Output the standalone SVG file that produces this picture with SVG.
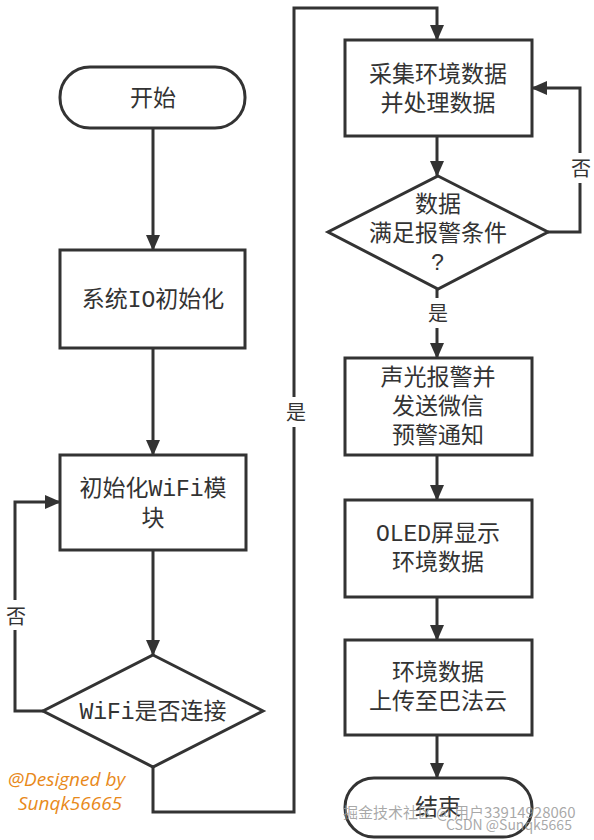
<svg xmlns="http://www.w3.org/2000/svg" width="594" height="840" viewBox="0 0 594 840">
<style>
.box{fill:#fff;stroke:#333;stroke-width:3}
.ln{fill:none;stroke:#333;stroke-width:3;stroke-linejoin:miter}
.t{font-family:"Liberation Mono","Noto Sans CJK SC",monospace;font-size:23px;fill:#333;text-anchor:middle}
.lbl{font-family:"Noto Sans CJK SC",sans-serif;font-size:20px;fill:#333;text-anchor:middle}
.wm{font-family:"Open Sans","Noto Sans",sans-serif;font-style:italic;font-size:19px;fill:#E8891A}
.wm2{font-family:"Noto Sans CJK SC",sans-serif;fill:#999;fill-opacity:0.85}
</style>
<defs>
<marker id="ah" markerUnits="userSpaceOnUse" markerWidth="16" markerHeight="14" refX="15" refY="7" orient="auto">
<path d="M0,0 L16,7 L0,14 Z" fill="#333"/>
</marker>
</defs>
<g id="connectors">
<path class="ln" d="M153,128 V250" marker-end="url(#ah)"/>
<path class="ln" d="M153,348 V455" marker-end="url(#ah)"/>
<path class="ln" d="M153,550 V655" marker-end="url(#ah)"/>
<path class="ln" d="M43,711 H15 V502 H60" marker-end="url(#ah)"/>
<path class="ln" d="M153,767 V812 H294 V8 H437 V40" marker-end="url(#ah)"/>
<path class="ln" d="M437,136 V176" marker-end="url(#ah)"/>
<path class="ln" d="M548,232 H580 V88 H532" marker-end="url(#ah)"/>
<path class="ln" d="M437,289 V358" marker-end="url(#ah)"/>
<path class="ln" d="M437,455 V500" marker-end="url(#ah)"/>
<path class="ln" d="M437,597 V640" marker-end="url(#ah)"/>
<path class="ln" d="M437,735 V778" marker-end="url(#ah)"/>
<rect x="5" y="600" width="22" height="30" fill="#fff"/>
<text class="lbl" x="16" y="624">否</text>
<rect x="284" y="397" width="22" height="30" fill="#fff"/>
<text class="lbl" x="296" y="420">是</text>
<rect x="570" y="153" width="22" height="30" fill="#fff"/>
<text class="lbl" x="581" y="176">否</text>
<rect x="426" y="298" width="22" height="30" fill="#fff"/>
<text class="lbl" x="438" y="321">是</text>
</g>
<g id="start">
<rect class="box" x="60" y="67" width="185" height="61" rx="30" ry="30"/>
<text class="t" x="153" y="106">开始</text>
</g>
<g id="init-io">
<rect class="box" x="60" y="250" width="185" height="98"/>
<text class="t" x="153" y="307">系统IO初始化</text>
</g>
<g id="init-wifi">
<rect class="box" x="60" y="455" width="186" height="95"/>
<text class="t" x="153" y="496">初始化WiFi模</text>
<text class="t" x="153" y="526">块</text>
</g>
<g id="wifi-check">
<path class="box" d="M153,655 L263,711 L153,767 L43,711 Z"/>
<text class="t" x="153" y="719">WiFi是否连接</text>
</g>
<g id="collect">
<rect class="box" x="345" y="40" width="187" height="96"/>
<text class="t" x="438" y="82">采集环境数据</text>
<text class="t" x="438" y="111">并处理数据</text>
</g>
<g id="alarm-check">
<path class="box" d="M438,176 L548,232 L438,289 L328,232 Z"/>
<text class="t" x="438" y="212">数据</text>
<text class="t" x="438" y="241">满足报警条件</text>
<text class="t" x="438" y="270">?</text>
</g>
<g id="alarm">
<rect class="box" x="345" y="358" width="187" height="97"/>
<text class="t" x="438" y="385">声光报警并</text>
<text class="t" x="438" y="414">发送微信</text>
<text class="t" x="438" y="443">预警通知</text>
</g>
<g id="oled">
<rect class="box" x="345" y="500" width="187" height="97"/>
<text class="t" x="438" y="541">OLED屏显示</text>
<text class="t" x="438" y="570">环境数据</text>
</g>
<g id="upload">
<rect class="box" x="345" y="640" width="187" height="95"/>
<text class="t" x="438" y="680">环境数据</text>
<text class="t" x="438" y="709">上传至巴法云</text>
</g>
<g id="end">
<rect class="box" x="345" y="778" width="187" height="59" rx="29" ry="29"/>
<text class="t" x="438" y="815">结束</text>
</g>
<g id="watermarks">
<text class="wm" x="8" y="786">@Designed by</text>
<text class="wm" x="18" y="810">Sunqk56665</text>
<text class="wm2" x="343" y="818" font-size="15">掘金技术社区 @ 用户33914928060</text>
<text class="wm2" x="446" y="830" font-size="14">CSDN @Sunqk5665</text>
</g>
</svg>
